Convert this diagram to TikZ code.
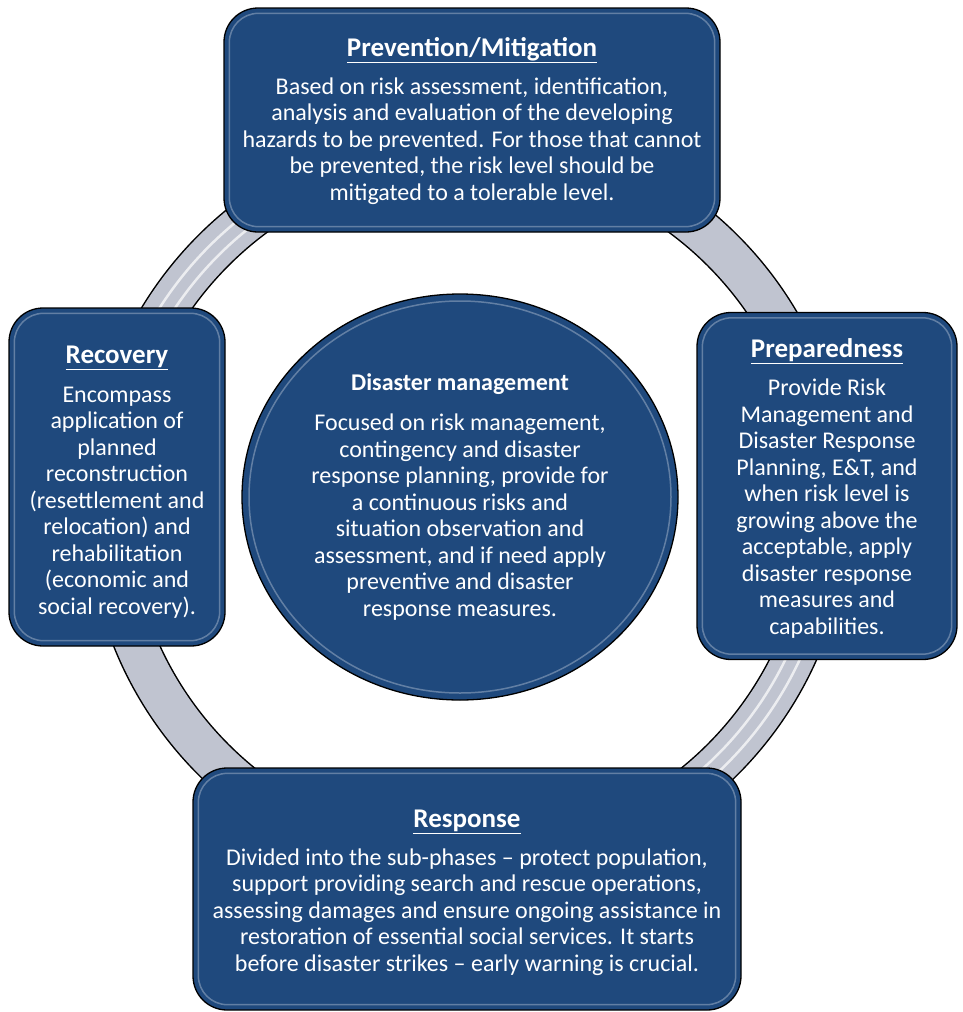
\documentclass[tikz,border=0pt]{standalone}
\usepackage{fontspec}
\setmainfont{Carlito}
\usetikzlibrary{shapes.geometric,positioning}
\definecolor{phaseblue}{RGB}{31,73,125}
\definecolor{ringgray}{RGB}{192,196,208}
\newcommand{\phasetitle}[2][22pt]{{\fontsize{27}{30}\selectfont\rule{0pt}{#1}\underline{\textbf{#2}}}}

\begin{document}
\begin{tikzpicture}[x=1pt, y=-1pt,
    phase/.style={draw=black, line width=1.3pt, fill=phaseblue, rounded corners=34pt,
      text=white, align=center, inner sep=0pt, font=\fontsize{24}{26.5}\selectfont},
    hub/.style={phase, ellipse, rounded corners=0pt},
    ringhi/.style={white, opacity=.7, line width=2.5pt},
    gloss/.style={white, opacity=.3, line width=1.5pt}]
    \useasboundingbox (0,0) rectangle (962,1012);
    \coordinate (ringc) at (468,505);
    % ring behind the phases
    \draw[line width=44pt, black] (ringc) circle[radius=360pt];
    \draw[line width=41pt, ringgray] (ringc) circle[radius=360pt];
    \foreach \a/\b in {125/155, -55/-20} {
      \draw[ringhi] ([shift={(\a:353pt)}]ringc) arc[start angle=\a, end angle=\b, radius=353pt];
      \draw[ringhi] ([shift={(\a:366pt)}]ringc) arc[start angle=\a, end angle=\b, radius=366pt];
    }
    \node (prevention) at (472,120) [phase, minimum width=496pt, minimum height=224pt]
      {\phasetitle[21pt]{Prevention/Mitigation}\\[11pt]
       Based on risk assessment, identification,\\
       analysis and evaluation of the developing\\
       hazards to be prevented. For those that cannot\\
       be prevented, the risk level should be\\
       mitigated to a tolerable level.};
    \node (recovery) at (117,477) [phase, minimum width=216pt, minimum height=338pt]
      {\phasetitle[28pt]{Recovery}\\[12pt]
       Encompass\\ application of\\ planned\\ reconstruction\\
       (resettlement and\\ relocation) and\\ rehabilitation\\
       (economic and\\ social recovery).};
    \node (preparedness) at (827,486) [phase, minimum width=260pt, minimum height=347pt]
      {\phasetitle[23pt]{Preparedness}\\[12pt]
       Provide Risk\\ Management and\\ Disaster Response\\
       Planning, E\&T, and\\ when risk level is\\ growing above the\\
       acceptable, apply\\ disaster response\\ measures and\\ capabilities.};
    \node (response) at (467,889) [phase, minimum width=548pt, minimum height=242pt]
      {\phasetitle[25pt]{Response}\\[11pt]
       Divided into the sub-phases – protect population,\\
       support providing search and rescue operations,\\
       assessing damages and ensure ongoing assistance in\\
       restoration of essential social services. It starts\\
       before disaster strikes – early warning is crucial.};
    \node (management) at (460,497) [hub, minimum width=436pt, minimum height=406pt]
      {\textbf{Disaster management}\\[14pt]
       Focused on risk management,\\ contingency and disaster\\
       response planning, provide for\\ a continuous risks and\\
       situation observation and\\ assessment, and if need apply\\
       preventive and disaster\\ response measures.};
    % soft inner rim
    \foreach \n in {prevention, recovery, preparedness, response}
      \draw[gloss, rounded corners=29pt] ([shift={(6pt,-6pt)}]\n.north west)
        rectangle ([shift={(-6pt,6pt)}]\n.south east);
    \draw[gloss] (management.center) ellipse[x radius=211pt, y radius=196pt];
\end{tikzpicture}
\end{document}
